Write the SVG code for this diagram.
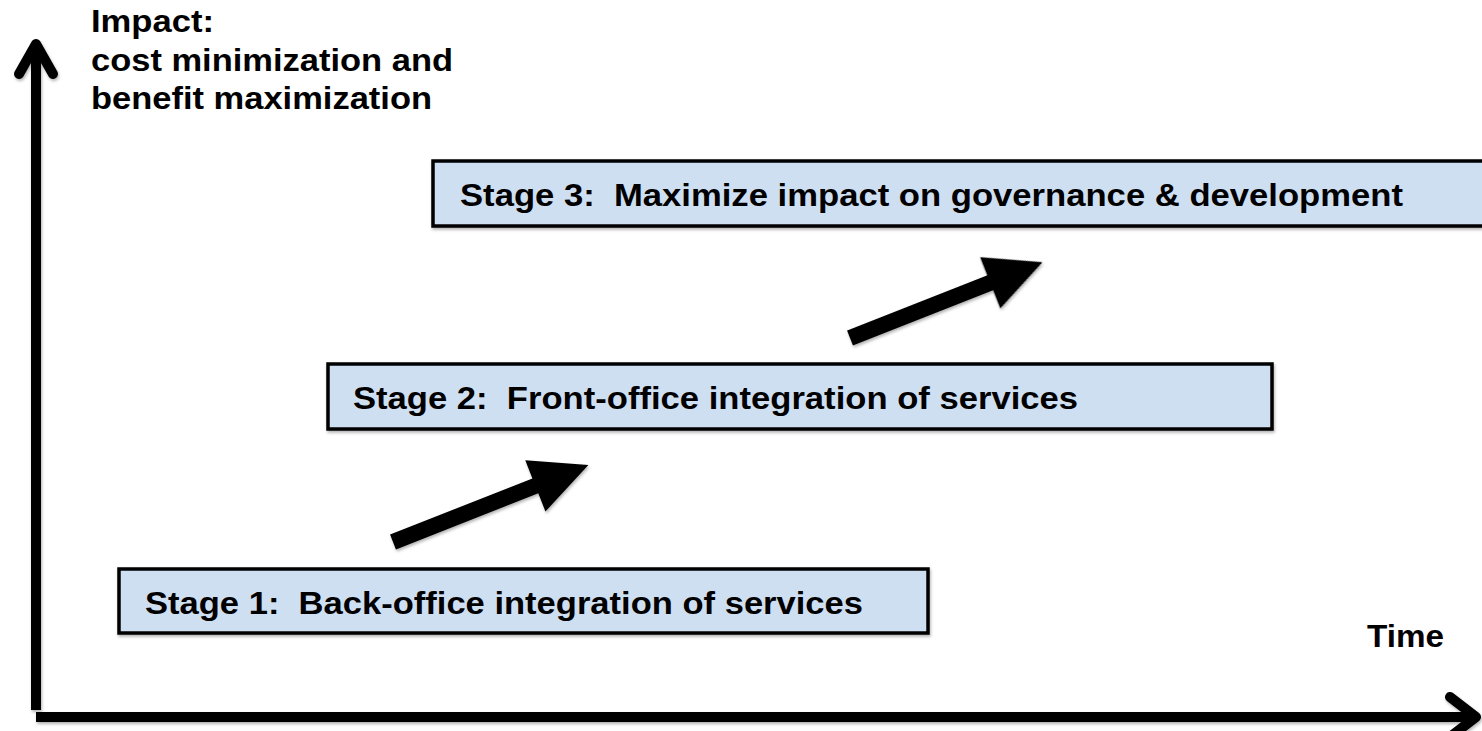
<svg xmlns="http://www.w3.org/2000/svg" width="1482" height="731" viewBox="0 0 1482 731">
<defs>
<style>
.lbl{font-family:"Liberation Sans",Arial,sans-serif;font-weight:bold;font-size:32px;fill:#000;white-space:pre}
.box{fill:#cfdff2;stroke:#000;stroke-width:3.5}
.axis{fill:none;stroke:#000;stroke-width:10}
.chev{fill:none;stroke:#000;stroke-width:10;stroke-linecap:round;stroke-linejoin:round}
</style>
<filter id="sh" x="-10%" y="-10%" width="120%" height="130%">
<feDropShadow dx="1" dy="2" stdDeviation="1.5" flood-color="#000" flood-opacity="0.3"/>
</filter>
<path id="barrow" d="M0,-8 L153,-8 L153,-27.5 L210,0 L153,27.5 L153,8 L0,8 Z"/>
</defs>
<rect width="1482" height="731" fill="#fff"/>
<g id="axes" filter="url(#sh)">
<line class="axis" x1="36" y1="710" x2="36" y2="46"/>
<polyline class="chev" points="19,74 36,44 53,74"/>
<line class="axis" x1="36" y1="717" x2="1474" y2="717"/>
<polyline class="chev" points="1450,697 1476,717 1450,737"/>
</g>
<g id="y-label">
<text class="lbl" x="91" y="32" textLength="123" lengthAdjust="spacingAndGlyphs">Impact:</text>
<text class="lbl" x="91" y="71" textLength="362" lengthAdjust="spacingAndGlyphs">cost minimization and</text>
<text class="lbl" x="91" y="109" textLength="341" lengthAdjust="spacingAndGlyphs">benefit maximization</text>
</g>
<g id="x-label">
<text class="lbl" x="1367" y="647" textLength="77" lengthAdjust="spacingAndGlyphs">Time</text>
</g>
<g id="stage3">
<rect class="box" x="433" y="161" width="1060" height="65" filter="url(#sh)"/>
<text class="lbl" x="460" y="206" textLength="943" lengthAdjust="spacingAndGlyphs" xml:space="preserve">Stage 3:  Maximize impact on governance &amp; development</text>
</g>
<g id="stage2">
<rect class="box" x="328" y="364" width="944" height="65" filter="url(#sh)"/>
<text class="lbl" x="353" y="409" textLength="725" lengthAdjust="spacingAndGlyphs" xml:space="preserve">Stage 2:  Front-office integration of services</text>
</g>
<g id="stage1">
<rect class="box" x="119" y="569" width="809" height="64" filter="url(#sh)"/>
<text class="lbl" x="145" y="614" textLength="718" lengthAdjust="spacingAndGlyphs" xml:space="preserve">Stage 1:  Back-office integration of services</text>
</g>
<g id="connectors" filter="url(#sh)">
<use href="#barrow" transform="translate(393,542) rotate(-21.5)"/>
<use href="#barrow" transform="translate(850,338) rotate(-21.5) scale(0.985,1)"/>
</g>
</svg>
